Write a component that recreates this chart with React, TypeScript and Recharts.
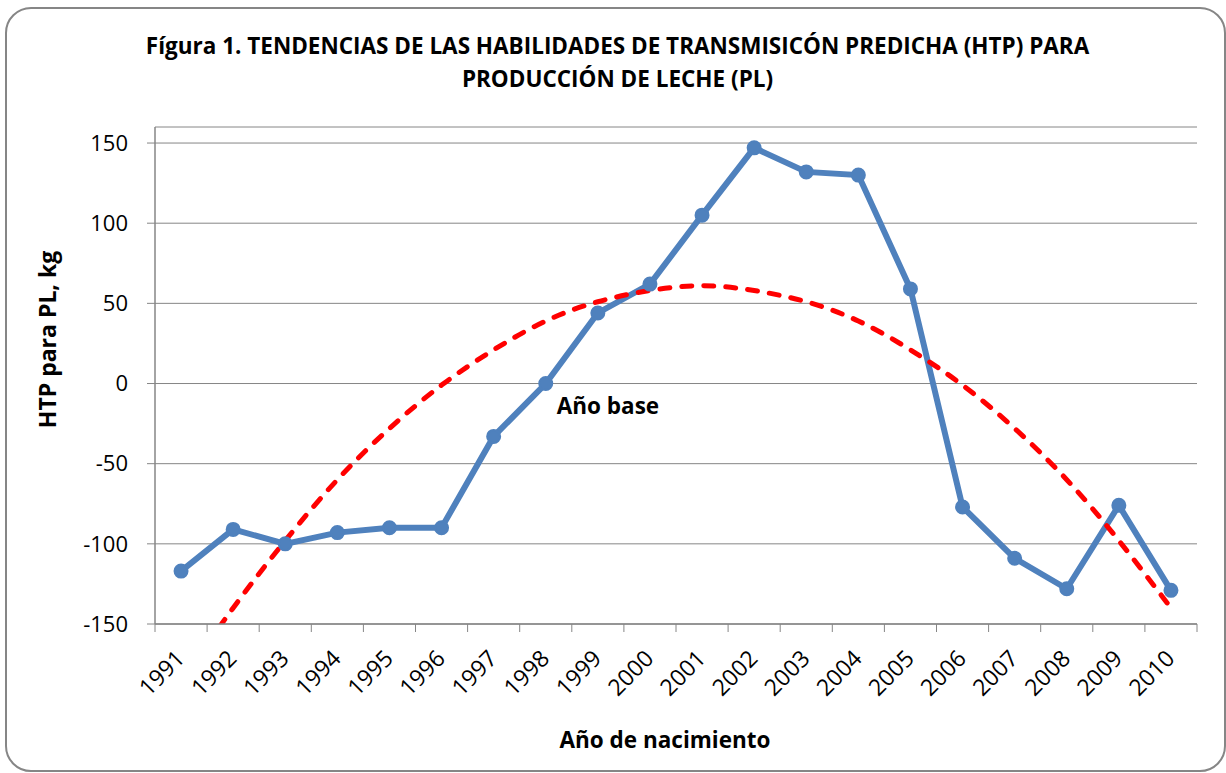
import React from 'react';
import { LineChart, Line, XAxis, YAxis, CartesianGrid, LabelList } from 'recharts';

// Año de nacimiento (categorías del eje X)
const years = [
  '1991', '1992', '1993', '1994', '1995', '1996', '1997', '1998', '1999', '2000',
  '2001', '2002', '2003', '2004', '2005', '2006', '2007', '2008', '2009', '2010',
];

// HTP para PL, kg (serie azul)
const htp = [-117, -91, -100, -93, -90, -90, -33, 0, 44, 62, 105, 147, 132, 130, 59, -77, -109, -128, -76, -129];

// Línea de tendencia polinómica (roja discontinua)
const trend = [-186, -140, -98, -60, -28, -1, 21, 39, 51, 58, 61, 58, 51, 39, 21, -1, -28, -60, -98, -140];

const yTicks = [-150, -100, -50, 0, 50, 100, 150];
const baseYear = '1998';

const FONT = '"Open Sans", sans-serif';
const GREY = '#868686';

const W = 1226;
const H = 773;
const margin = { top: 127, right: 29, bottom: 0, left: 20 };
const Y_AXIS_W = 135;
const X_AXIS_H = 149;
// ancho de cada categoría, para poner las marcas entre años como en Excel
const band = (W - margin.left - margin.right - Y_AXIS_W) / years.length;

const data = years.map((year, i) => ({ year, htp: htp[i], trend: trend[i] }));

const YearTick = ({ x, y, payload, index }: any) => (
  <g>
    <line x1={x - band / 2} x2={x - band / 2} y1={y} y2={y + 8} stroke={GREY} />
    {index === years.length - 1 && (
      <line x1={x + band / 2} x2={x + band / 2} y1={y} y2={y + 8} stroke={GREY} />
    )}
    <g transform={`translate(${x + 5},${y + 36})`}>
      <text x={0} y={0} textAnchor="end" transform="rotate(-45)" fill="#000" fontSize={23} fontFamily={FONT}>
        {payload.value}
      </text>
    </g>
  </g>
);

const BaseLabel = ({ x, y, value }: any) => {
  if (value !== baseYear) return null;
  return (
    <text x={x + 11} y={y + 30} fill="#000" fontSize={22.5} fontWeight="bold" fontFamily={FONT}>
      Año base
    </text>
  );
};

const YTitle = ({ viewBox }: any) => {
  const cx = viewBox.x + 36;
  const cy = viewBox.y + viewBox.height / 2 - 36;
  return (
    <text
      x={cx}
      y={cy}
      transform={`rotate(-90, ${cx}, ${cy})`}
      textAnchor="middle"
      fill="#000"
      fontSize={23}
      fontWeight="bold"
      fontFamily={FONT}
    >
      HTP para PL, kg
    </text>
  );
};

const XTitle = ({ viewBox }: any) => (
  <text
    x={viewBox.x + viewBox.width / 2 - 11}
    y={viewBox.y + 124}
    textAnchor="middle"
    fill="#000"
    fontSize={22.5}
    fontWeight="bold"
    fontFamily={FONT}
  >
    Año de nacimiento
  </text>
);

export default function App() {
  return (
    <div style={{ position: 'absolute', left: 0, top: 0, width: W, height: H, background: '#fff', overflow: 'hidden' }}>
      <div
        style={{
          position: 'absolute',
          left: 5,
          top: 7,
          width: 1221,
          height: 765,
          border: `2px solid ${GREY}`,
          borderRadius: 26,
          boxSizing: 'border-box',
        }}
      />
      <div
        style={{
          position: 'absolute',
          left: 0,
          top: 29,
          width: 1235,
          textAlign: 'center',
          fontFamily: FONT,
          fontWeight: 'bold',
          fontSize: 22.5,
          lineHeight: '33px',
          color: '#000',
          whiteSpace: 'nowrap',
        }}
      >
        Fígura 1. TENDENCIAS DE LAS HABILIDADES DE TRANSMISICÓN PREDICHA (HTP) PARA
        <br />
        PRODUCCIÓN DE LECHE (PL)
      </div>
      <div style={{ position: 'absolute', left: 0, top: 0 }}>
        <LineChart width={W} height={H} data={data} margin={margin}>
          <CartesianGrid vertical={false} stroke={GREY} strokeWidth={1} />
          <XAxis
            dataKey="year"
            interval={0}
            padding={{ left: band / 2, right: band / 2 }}
            axisLine={{ stroke: GREY, strokeWidth: 1.5 }}
            tickLine={false}
            tickSize={0}
            tickMargin={0}
            height={X_AXIS_H}
            tick={<YearTick />}
            label={{ content: <XTitle /> }}
          />
          <YAxis
            domain={[-150, 160]}
            allowDataOverflow
            ticks={yTicks}
            interval={0}
            width={Y_AXIS_W}
            tickSize={8}
            tickMargin={19}
            axisLine={{ stroke: GREY, strokeWidth: 1.5 }}
            tickLine={{ stroke: GREY }}
            tick={{ fill: '#000', fontSize: 22, fontFamily: FONT }}
            label={{ content: <YTitle /> }}
          />
          <Line
            type="linear"
            dataKey="htp"
            stroke="#4F81BD"
            strokeWidth={6}
            dot={{ r: 6.5, fill: '#4F81BD', stroke: '#4F81BD', strokeWidth: 2 }}
            activeDot={false}
            isAnimationActive={false}
          >
            <LabelList dataKey="year" content={<BaseLabel />} />
          </Line>
          <Line
            type="natural"
            dataKey="trend"
            stroke="#FF0000"
            strokeWidth={5}
            strokeDasharray="10 12"
            strokeLinecap="round"
            dot={false}
            activeDot={false}
            isAnimationActive={false}
          />
        </LineChart>
      </div>
    </div>
  );
}
